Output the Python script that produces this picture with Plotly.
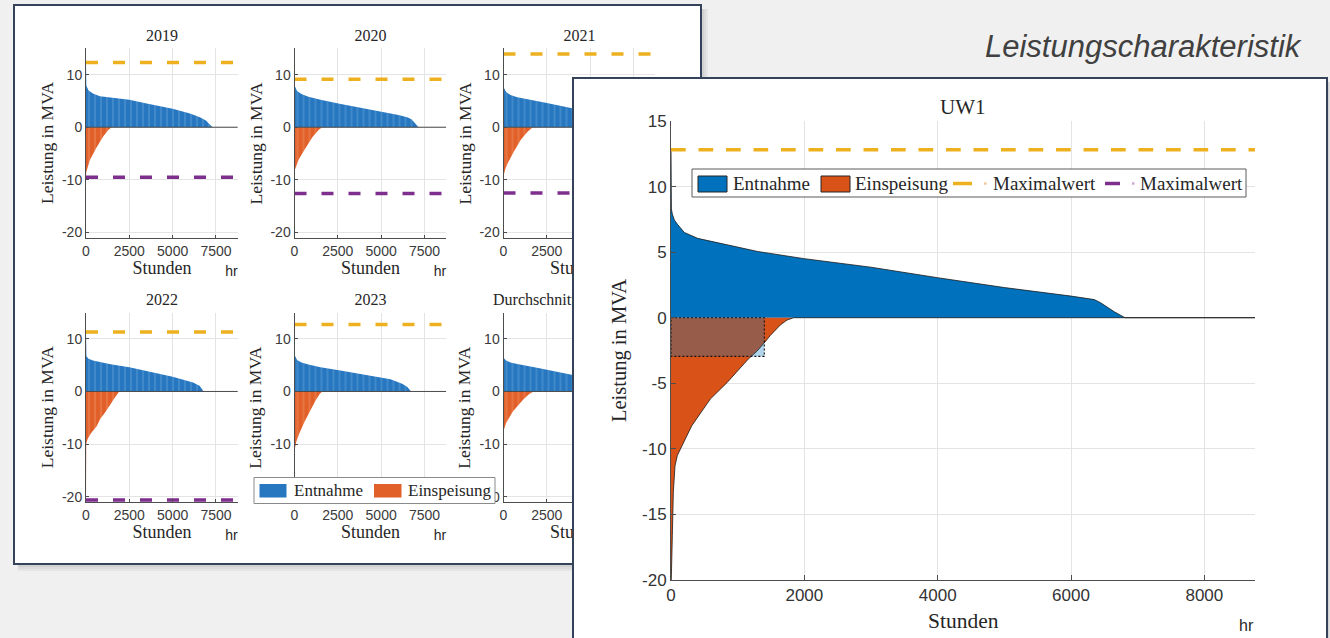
import plotly.graph_objects as go

BREITE, HOEHE = 1330, 638
STUNDEN_JAHR = 8760

# ---------------- Geordnete Jahresdauerlinien (Stunden, Leistung in MVA) ----------------
jahre = ["2019", "2020", "2021", "2022", "2023", "Durchschnitt"]

ent_h_2019 = [0, 8, 20, 150, 400, 800, 1500, 2500, 3500, 5000, 6000, 6570, 6920, 7300, 8760]
ent_v_2019 = [12.3, 8.2, 7.9, 7.0, 6.4, 5.9, 5.6, 5.2, 4.5, 3.5, 2.6, 1.9, 1.3, 0.0, 0.0]
ein_h_2019 = [0, 10, 100, 230, 615, 1000, 1300, 1480, 8760]
ein_v_2019 = [-9.5, -8.6, -7.6, -6.2, -3.8, -1.7, -0.5, 0.0, 0.0]

ent_h_2020 = [0, 8, 20, 150, 400, 800, 1500, 2600, 3800, 5000, 6000, 6500, 6750, 7160, 8760]
ent_v_2020 = [9.1, 8.2, 7.8, 6.9, 6.3, 5.8, 5.2, 4.45, 3.7, 3.0, 2.3, 1.9, 1.5, 0.0, 0.0]
ein_h_2020 = [0, 10, 100, 250, 650, 1050, 1400, 1600, 8760]
ein_v_2020 = [-12.6, -8.2, -7.4, -6.1, -3.9, -1.8, -0.5, 0.0, 0.0]

ent_h_2021 = [0, 8, 20, 150, 400, 800, 1500, 2500, 4100, 5000, 6000, 6500, 6750, 7050, 8760]
ent_v_2021 = [13.9, 8.0, 7.5, 6.7, 6.1, 5.7, 5.2, 4.6, 3.5, 2.9, 2.2, 1.8, 1.4, 0.0, 0.0]
ein_h_2021 = [0, 10, 100, 250, 600, 1000, 1400, 1700, 8760]
ein_v_2021 = [-12.5, -9.2, -8.0, -6.8, -4.6, -2.4, -0.8, 0.0, 0.0]

ent_h_2022 = [0, 8, 25, 150, 400, 800, 1500, 2500, 3800, 5000, 6180, 6550, 6800, 8760]
ent_v_2022 = [11.3, 7.4, 6.7, 6.2, 5.9, 5.6, 5.1, 4.6, 3.7, 2.8, 1.7, 1.1, 0.0, 0.0]
ein_h_2022 = [0, 5, 15, 100, 300, 615, 810, 1100, 1385, 1700, 1920, 8760]
ein_v_2022 = [-20.6, -11.6, -9.9, -9.0, -7.9, -6.6, -5.3, -4.0, -2.5, -1.0, 0.0, 0.0]

ent_h_2023 = [0, 8, 25, 150, 400, 800, 1500, 2650, 4000, 5540, 6210, 6500, 6730, 8760]
ent_v_2023 = [12.7, 7.3, 6.8, 6.0, 5.5, 5.1, 4.6, 4.0, 3.2, 2.3, 1.45, 0.9, 0.0, 0.0]
ein_h_2023 = [0, 5, 15, 100, 300, 600, 900, 1200, 1450, 1615, 8760]
ein_v_2023 = [-21.5, -12.5, -11.0, -9.6, -7.8, -5.6, -3.6, -1.8, -0.5, 0.0, 0.0]

ent_h_mittel = [0, 25, 150, 400, 800, 1500, 2080, 4000, 5200, 6200, 6600, 6900, 8760]
ent_v_mittel = [6.7, 6.3, 5.9, 5.5, 5.2, 4.7, 4.4, 3.15, 2.5, 1.7, 1.2, 0.0, 0.0]
ein_h_mittel = [0, 150, 540, 1115, 1450, 1730, 8760]
ein_v_mittel = [-7.5, -6.0, -3.8, -1.6, -0.6, 0.0, 0.0]

# Maximalwerte je Jahr (Entnahme / Einspeisung), Durchschnitt ohne Maximallinien
max_ent = [12.3, 9.1, 13.9, 11.3, 12.7, None]
max_ein = [-9.5, -12.6, -12.5, -20.6, -21.5, None]

# Umspannwerk UW1
uw1_ent_h = [0, 2, 6, 20, 50, 100, 200, 400, 750, 1300, 2000, 3000, 4000, 5000,
             6000, 6350, 6450, 6650, 6810, 8760]
uw1_ent_v = [12.8, 10.2, 8.3, 7.9, 7.45, 7.1, 6.5, 6.05, 5.65, 5.05, 4.5, 3.85, 3.05, 2.3,
             1.65, 1.38, 1.12, 0.45, 0.0, 0.0]
uw1_ein_h = [0, 5, 20, 35, 60, 95, 210, 310, 590, 840, 1160, 1290, 1410, 1490, 1640,
             1740, 1840, 8760]
uw1_ein_v = [-20.9, -18.9, -16.6, -13.3, -11.3, -10.5, -9.3, -8.25, -6.2, -4.95, -3.15,
             -2.55, -1.85, -1.35, -0.55, -0.18, 0.0, 0.0]
uw1_max_ent = 12.8
uw1_max_ein = -20.9
uw1_schwelle_h = 1400
uw1_schwelle_v = -2.95

klein_xticks = [0, 2500, 5000, 7500]
klein_yticks = [-20, -10, 0, 10]
uw1_xticks = [0, 2000, 4000, 6000, 8000]
uw1_yticks = [-20, -15, -10, -5, 0, 5, 10, 15]

# ---------------- Stil ----------------
SERIF = "Liberation Serif, Times New Roman, serif"
SANS = "Liberation Sans, Arial, sans-serif"
BLAU, ORANGE = "#0072bd", "#d95319"
BLAU_K, BLAU_K_HELL = "#2676c0", "#5d9cd6"
ORANGE_K, ORANGE_K_HELL = "#e15f28", "#ee8d5f"
GELB, LILA = "#edb120", "#7e2f8e"
RAHMEN = "#34435a"
ACHSE = "#4d4d4d"
GITTER = "#e4e4e4"
TEXT = "#262626"


def px_x(p):
    return p / BREITE


def px_y(p):
    return 1 - p / HOEHE


def achse(kind, n):
    return f"{kind}axis" if n == 1 else f"{kind}axis{n}"


def ref(kind, n):
    return kind if n == 1 else f"{kind}{n}"


layout = dict(
    width=BREITE, height=HOEHE,
    margin=dict(l=0, r=0, t=0, b=0, pad=0, autoexpand=False),
    autosize=False,
    paper_bgcolor="#f0f0f0", plot_bgcolor="white",
    showlegend=False, hovermode=False,
)
traces = []
shapes = []
annots = []


def rect_px(x0, y0, x1, y1, **kw):
    d = dict(type="rect", xref="paper", yref="paper",
             x0=px_x(x0), x1=px_x(x1), y0=px_y(y1), y1=px_y(y0))
    d.update(kw)
    return d


def text_px(x, y, s, size, family, color=TEXT, xanchor="center", angle=0):
    annots.append(dict(x=px_x(x), y=px_y(y), xref="paper", yref="paper", text=s,
                       showarrow=False, xanchor=xanchor, yanchor="middle",
                       textangle=angle, font=dict(family=family, size=size, color=color)))


leer_achse = dict(showgrid=False, zeroline=False, showticklabels=False, ticks="",
                  fixedrange=True, showline=True, linecolor=RAHMEN, linewidth=1.5)

# ---------------- Linke Tafel (Subplot 1, Pixelkoordinaten) ----------------
layout["xaxis"] = dict(leer_achse, domain=[px_x(15), px_x(700)], range=[15, 700],
                       anchor="y", mirror=True)
layout["yaxis"] = dict(leer_achse, domain=[px_y(563), px_y(5.5)], range=[563, 5.5],
                       anchor="x", mirror=True)

spalten_x0 = [86, 294.5, 503.5]
zeilen_y = [(48.3, 237.7), (312.5, 502)]
breite_klein = 151.8

titel_x, titel_y, titel_pos = [], [], []
stunden_x, stunden_y = [], []
hr_x, hr_y = [], []

for i, jahr in enumerate(jahre):
    spalte, zeile = i % 3, i // 3
    x0 = spalten_x0[spalte]
    top, bottom = zeilen_y[zeile]
    mitte = x0 + breite_klein / 2
    if jahr == "Durchschnitt":
        titel_x.append(493)
        titel_pos.append("middle right")
    else:
        titel_x.append(mitte)
        titel_pos.append("middle center")
    titel_y.append(top - 11.5)
    stunden_x.append(mitte)
    stunden_y.append(bottom + 31.5)
    hr_x.append(x0 + 145.5)
    hr_y.append(bottom + 34.5)
    text_px(x0 - 39, (top + bottom) / 2, "Leistung in MVA", 17.5, SERIF, angle=-90)

traces.append(go.Scatter(x=titel_x, y=titel_y, text=jahre, mode="text",
                         textposition=titel_pos, cliponaxis=True,
                         textfont=dict(family=SERIF, size=16, color=TEXT),
                         xaxis="x", yaxis="y", hoverinfo="skip", showlegend=False))
traces.append(go.Scatter(x=stunden_x, y=stunden_y, text=["Stunden"] * 6, mode="text",
                         textfont=dict(family=SERIF, size=18, color=TEXT),
                         xaxis="x", yaxis="y", hoverinfo="skip", showlegend=False))
traces.append(go.Scatter(x=hr_x, y=hr_y, text=["hr"] * 6, mode="text",
                         textfont=dict(family=SANS, size=14, color=TEXT),
                         xaxis="x", yaxis="y", hoverinfo="skip", showlegend=False))

# ---------------- Sechs kleine Dauerlinien (Subplots 2..7) ----------------
ent_h = [ent_h_2019, ent_h_2020, ent_h_2021, ent_h_2022, ent_h_2023, ent_h_mittel]
ent_v = [ent_v_2019, ent_v_2020, ent_v_2021, ent_v_2022, ent_v_2023, ent_v_mittel]
ein_h = [ein_h_2019, ein_h_2020, ein_h_2021, ein_h_2022, ein_h_2023, ein_h_mittel]
ein_v = [ein_v_2019, ein_v_2020, ein_v_2021, ein_v_2022, ein_v_2023, ein_v_mittel]

klein_ax = dict(showline=True, linecolor=ACHSE, linewidth=1, ticks="inside", ticklen=3,
                tickcolor=ACHSE, showgrid=True, gridcolor=GITTER, gridwidth=1,
                zeroline=False, fixedrange=True, automargin=False,
                tickfont=dict(family=SANS, size=14, color="#3a3a3a"))

for i in range(6):
    n = i + 2
    spalte, zeile = i % 3, i // 3
    x0 = spalten_x0[spalte]
    top, bottom = zeilen_y[zeile]
    # in der rechten Spalte liegen die hinteren Beschriftungen unter der UW1-Tafel
    xtext = [str(t) for t in klein_xticks]
    if spalte == 2:
        xtext = [s if t < 5000 else "" for s, t in zip(xtext, klein_xticks)]
    layout[achse("x", n)] = dict(klein_ax, domain=[px_x(x0), px_x(x0 + breite_klein)],
                                 range=[0, STUNDEN_JAHR], anchor=ref("y", n),
                                 tickvals=klein_xticks, ticktext=xtext)
    layout[achse("y", n)] = dict(klein_ax, domain=[px_y(bottom), px_y(top)],
                                 range=[-21, 15], anchor=ref("x", n),
                                 tickvals=klein_yticks,
                                 ticktext=[str(t) for t in klein_yticks])
    xa, ya = ref("x", n), ref("y", n)
    traces.append(go.Scatter(
        x=ent_h[i], y=ent_v[i], mode="lines", line=dict(width=0), fill="tozeroy",
        fillcolor=BLAU_K,
        fillpattern=dict(shape="|", bgcolor=BLAU_K, fgcolor=BLAU_K_HELL,
                         fgopacity=0.45, size=6, solidity=0.35),
        xaxis=xa, yaxis=ya, hoverinfo="skip", showlegend=False))
    traces.append(go.Scatter(
        x=ein_h[i], y=ein_v[i], mode="lines", line=dict(width=0), fill="tozeroy",
        fillcolor=ORANGE_K,
        fillpattern=dict(shape="|", bgcolor=ORANGE_K, fgcolor=ORANGE_K_HELL,
                         fgopacity=0.45, size=6, solidity=0.35),
        xaxis=xa, yaxis=ya, hoverinfo="skip", showlegend=False))
    traces.append(go.Scatter(
        x=[ent_h[i][0], ent_h[i][-1]], y=[0, 0], mode="lines",
        line=dict(color="#4a4a4a", width=1),
        xaxis=xa, yaxis=ya, hoverinfo="skip", showlegend=False))
    if max_ent[i] is not None:
        for wert, farbe in ((max_ent[i], GELB), (max_ein[i], LILA)):
            traces.append(go.Scatter(
                x=[0, STUNDEN_JAHR], y=[wert, wert], mode="lines",
                line=dict(color=farbe, width=3.5, dash="12px,15px"),
                xaxis=xa, yaxis=ya, hoverinfo="skip", showlegend=False))

# ---------------- Rechte Tafel (Subplot 8) ----------------
layout["xaxis8"] = dict(leer_achse, domain=[px_x(574), px_x(1326)], range=[0, 1],
                        anchor="y8", side="top", mirror=False)
layout["yaxis8"] = dict(leer_achse, domain=[0, px_y(78.5)], range=[0, 1],
                        anchor="x8", mirror=True)
traces.append(go.Scatter(x=[None], y=[None], mode="lines", xaxis="x8", yaxis="y8",
                         hoverinfo="skip", showlegend=False))

# ---------------- UW1 (Subplot 9) ----------------
gross_ax = dict(showline=True, linecolor=ACHSE, linewidth=1, ticks="inside", ticklen=5,
                tickcolor=ACHSE, showgrid=True, gridcolor=GITTER, gridwidth=1,
                zeroline=False, fixedrange=True, automargin=False,
                tickfont=dict(family=SANS, size=17, color="#333333"))
layout["xaxis9"] = dict(gross_ax, domain=[px_x(671), px_x(1255)], range=[0, STUNDEN_JAHR],
                        anchor="y9", tickvals=uw1_xticks,
                        ticktext=[str(t) for t in uw1_xticks])
layout["yaxis9"] = dict(gross_ax, domain=[px_y(580), px_y(121)], range=[-20, 15],
                        anchor="x9", tickvals=uw1_yticks,
                        ticktext=[str(t) for t in uw1_yticks])

traces.append(go.Scatter(x=uw1_ent_h, y=uw1_ent_v, mode="lines", fill="tozeroy",
                         fillcolor=BLAU, line=dict(color="#1a1a1a", width=0.8),
                         xaxis="x9", yaxis="y9", hoverinfo="skip", showlegend=False))
traces.append(go.Scatter(x=uw1_ein_h, y=uw1_ein_v, mode="lines", fill="tozeroy",
                         fillcolor=ORANGE, line=dict(color="#1a1a1a", width=0.8),
                         xaxis="x9", yaxis="y9", hoverinfo="skip", showlegend=False))
traces.append(go.Scatter(
    x=[0, uw1_schwelle_h, uw1_schwelle_h, 0, 0],
    y=[0, 0, uw1_schwelle_v, uw1_schwelle_v, 0],
    mode="lines", fill="toself", fillcolor="rgba(0,114,189,0.3)",
    line=dict(color="#111111", width=1.1, dash="2px,2px"),
    xaxis="x9", yaxis="y9", hoverinfo="skip", showlegend=False))
for wert, farbe in ((uw1_max_ent, GELB), (uw1_max_ein, LILA)):
    traces.append(go.Scatter(x=[0, STUNDEN_JAHR], y=[wert, wert], mode="lines",
                             line=dict(color=farbe, width=3.5, dash="14.7px,12.8px"),
                             xaxis="x9", yaxis="y9", hoverinfo="skip", showlegend=False))

text_px(963, 107, "UW1", 21, SERIF)
text_px(619, 351, "Leistung in MVA", 20.5, SERIF, angle=-90)
text_px(963, 621, "Stunden", 21.5, SERIF)
text_px(1246, 625, "hr", 16, SANS)

# ---------------- Legenden ----------------
# kleine Legende (linke Tafel)
shapes.append(rect_px(254, 477.5, 495, 503.5, fillcolor="white",
                      line=dict(color="#8a8a8a", width=1), layer="above"))
shapes.append(rect_px(259.5, 484, 286.5, 497.5, fillcolor=BLAU_K,
                      line=dict(width=0), layer="above"))
shapes.append(rect_px(374, 484, 401.5, 497.5, fillcolor=ORANGE_K,
                      line=dict(width=0), layer="above"))
text_px(291.5, 490.5, "Entnahme", 17, SERIF, xanchor="left")
text_px(406, 490.5, "Einspeisung", 17, SERIF, xanchor="left")

# Legende UW1
shapes.append(rect_px(692, 169, 1246, 197, fillcolor="white",
                      line=dict(color="#5a5a5a", width=1), layer="above"))
shapes.append(rect_px(698, 176, 727, 192, fillcolor=BLAU,
                      line=dict(color="#262626", width=1), layer="above"))
shapes.append(rect_px(821, 176, 850, 192, fillcolor=ORANGE,
                      line=dict(color="#262626", width=1), layer="above"))
for xa0, xa1, xb0, xb1, farbe, hell in ((953, 972, 984, 986.5, GELB, "#f3c9a0"),
                                        (1105, 1120, 1132, 1134.5, LILA, "#cfa8d6")):
    shapes.append(dict(type="line", xref="paper", yref="paper", x0=px_x(xa0), x1=px_x(xa1),
                       y0=px_y(183.5), y1=px_y(183.5), line=dict(color=farbe, width=3.5),
                       layer="above"))
    shapes.append(dict(type="line", xref="paper", yref="paper", x0=px_x(xb0), x1=px_x(xb1),
                       y0=px_y(183.5), y1=px_y(183.5), line=dict(color=hell, width=2.5),
                       layer="above"))
text_px(731, 183, "Entnahme", 19, SERIF, xanchor="left")
text_px(853, 183, "Einspeisung", 19, SERIF, xanchor="left")
text_px(991, 183, "Maximalwert", 19, SERIF, xanchor="left")
text_px(1138, 183, "Maximalwert", 19, SERIF, xanchor="left")

# ---------------- Schatten der Tafeln ----------------
for k in (2, 4, 6, 8):
    shapes.append(rect_px(18, 563, 700 + k, 563 + k, fillcolor="rgba(0,0,0,0.045)",
                          line=dict(width=0), layer="below"))
    shapes.append(rect_px(700, 9, 700 + k, 563, fillcolor="rgba(0,0,0,0.045)",
                          line=dict(width=0), layer="below"))
    shapes.append(rect_px(1326, 82, 1326 + k / 2, 638, fillcolor="rgba(0,0,0,0.06)",
                          line=dict(width=0), layer="below"))

# ---------------- Überschrift ----------------
text_px(1304, 46, "<i>Leistungscharakteristik</i>", 31, SANS, color="#404040",
        xanchor="right")

layout["shapes"] = shapes
layout["annotations"] = annots

fig = go.Figure(data=traces, layout=layout)
fig.write_html(
    "out.html",
    config={"responsive": False, "displayModeBar": False},
    post_script="document.body.style.margin='0';"
                "document.documentElement.style.overflow='hidden';",
)
